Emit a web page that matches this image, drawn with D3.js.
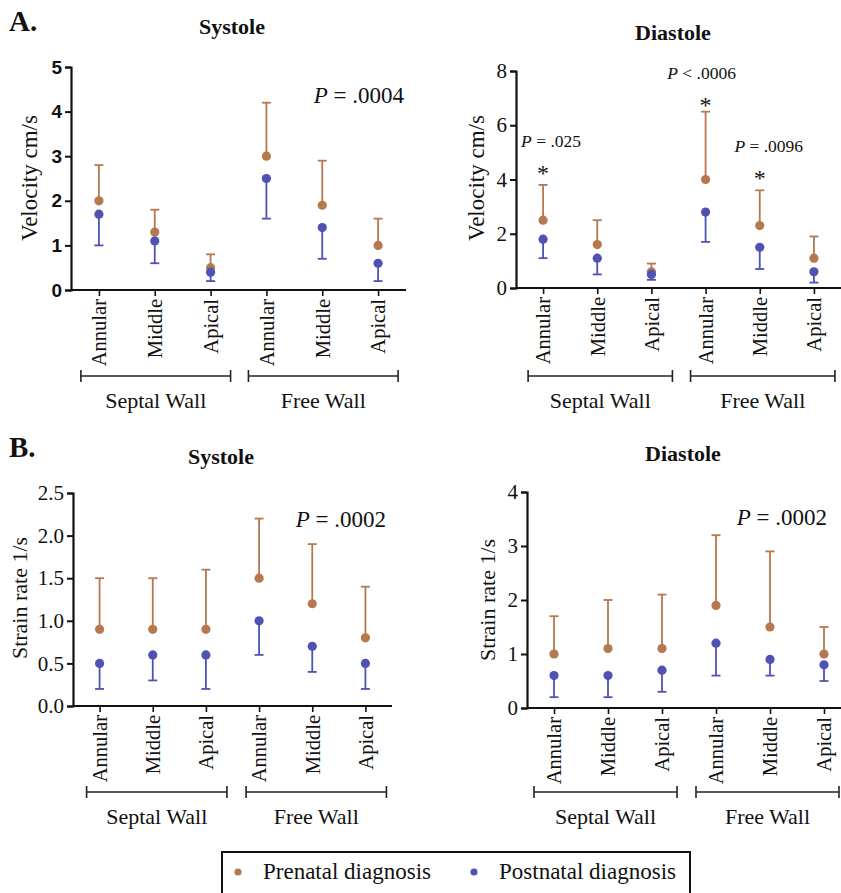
<!doctype html>
<html>
<head>
<meta charset="utf-8">
<script src="https://d3js.org/d3.v7.min.js"></script>
<style>
  body { margin: 0; background: #fff; }
</style>
</head>
<body>
<svg width="841" height="893"></svg>
<script>
// categories along each wall
var categories = ["Annular", "Middle", "Apical", "Annular", "Middle", "Apical"];
var groups = ["Septal Wall", "Free Wall"];

// A. velocity, systole
var velSysPre = [2.0, 1.3, 0.5, 3.0, 1.9, 1.0];
var velSysPreHi = [2.8, 1.8, 0.8, 4.2, 2.9, 1.6];
var velSysPost = [1.7, 1.1, 0.4, 2.5, 1.4, 0.6];
var velSysPostLo = [1.0, 0.6, 0.2, 1.6, 0.7, 0.2];
var velSysTicks = [0, 1, 2, 3, 4, 5];

// A. velocity, diastole
var velDiaPre = [2.5, 1.6, 0.6, 4.0, 2.3, 1.1];
var velDiaPreHi = [3.8, 2.5, 0.9, 6.5, 3.6, 1.9];
var velDiaPost = [1.8, 1.1, 0.5, 2.8, 1.5, 0.6];
var velDiaPostLo = [1.1, 0.5, 0.3, 1.7, 0.7, 0.2];
var velDiaTicks = [0, 2, 4, 6, 8];

// B. strain rate, systole
var srSysPre = [0.9, 0.9, 0.9, 1.5, 1.2, 0.8];
var srSysPreHi = [1.5, 1.5, 1.6, 2.2, 1.9, 1.4];
var srSysPost = [0.5, 0.6, 0.6, 1.0, 0.7, 0.5];
var srSysPostLo = [0.2, 0.3, 0.2, 0.6, 0.4, 0.2];
var srSysTicks = [0, 0.5, 1.0, 1.5, 2.0, 2.5];

// B. strain rate, diastole
var srDiaPre = [1.0, 1.1, 1.1, 1.9, 1.5, 1.0];
var srDiaPreHi = [1.7, 2.0, 2.1, 3.2, 2.9, 1.5];
var srDiaPost = [0.6, 0.6, 0.7, 1.2, 0.9, 0.8];
var srDiaPostLo = [0.2, 0.2, 0.3, 0.6, 0.6, 0.5];
var srDiaTicks = [0, 1, 2, 3, 4];

var preColor = "#b5784f",
    postColor = "#5052b3";
var serif = "'Liberation Serif', 'Times New Roman', serif";

var svg = d3.select("svg");

function txt(sel, size) {
    return sel.attr("font-family", serif).attr("font-size", size).attr("fill", "#111");
}

function drawPanel(p) {
    var x = d3.scalePoint().domain(d3.range(categories.length))
              .range([p.x0, p.x1]).padding(0.5);
    var y = d3.scaleLinear().domain([0, d3.max(p.ticks)]).range([p.bottom, p.top]);
    var g = svg.append("g");

    // y axis
    var ya = g.append("g")
        .attr("transform", "translate(" + p.x0 + ",0)")
        .call(d3.axisLeft(y).tickValues(p.ticks).tickSize(6).tickPadding(3)
                .tickFormat(p.fmt));
    ya.select(".domain").attr("stroke", "#111").attr("stroke-width", 2.2);
    ya.selectAll(".tick line").attr("stroke", "#111").attr("stroke-width", 2);
    if (p.boldTicks) {
        ya.selectAll(".tick text")
          .attr("font-family", "'Liberation Sans', Arial, sans-serif")
          .attr("font-weight", "bold").attr("font-size", 19).attr("fill", "#111");
    } else {
        txt(ya.selectAll(".tick text"), 21);
    }

    // x axis
    var xa = g.append("g")
        .attr("transform", "translate(0," + p.bottom + ")")
        .call(d3.axisBottom(x).tickSize(6).tickFormat(function(i) { return categories[i]; }));
    xa.select(".domain").attr("d", "M" + p.x0 + ",0H" + p.x1)
      .attr("stroke", "#111").attr("stroke-width", 2.2);
    xa.selectAll(".tick line").attr("stroke", "#111").attr("stroke-width", 1.6);
    txt(xa.selectAll(".tick text"), 20.5)
      .attr("text-anchor", "end")
      .attr("transform", "rotate(-90)")
      .attr("x", -9).attr("y", 0).attr("dy", "0.33em");

    // y label
    txt(g.append("text"), p.ylabSize)
     .attr("transform", "translate(" + p.ylabX + "," + p.ylabY + ") rotate(-90)")
     .attr("text-anchor", "middle")
     .text(p.ylabel);

    // title
    txt(g.append("text"), 22)
     .attr("x", p.titleX).attr("y", p.titleY)
     .attr("text-anchor", "middle")
     .attr("font-weight", "bold")
     .text(p.title);

    // error bars
    var cap = 4.5;
    function bars(vals, ends, color) {
        var eb = g.append("g").attr("stroke", color).attr("stroke-width", 1.8);
        eb.selectAll("line.v").data(vals).enter().append("line")
          .attr("x1", function(d, i) { return x(i); })
          .attr("x2", function(d, i) { return x(i); })
          .attr("y1", function(d) { return y(d); })
          .attr("y2", function(d, i) { return y(ends[i]); });
        eb.selectAll("line.c").data(ends).enter().append("line")
          .attr("x1", function(d, i) { return x(i) - cap; })
          .attr("x2", function(d, i) { return x(i) + cap; })
          .attr("y1", function(d) { return y(d); })
          .attr("y2", function(d) { return y(d); });
    }
    bars(p.pre, p.preHi, preColor);
    bars(p.post, p.postLo, postColor);

    g.selectAll("circle.pre").data(p.pre).enter().append("circle")
     .attr("cx", function(d, i) { return x(i); })
     .attr("cy", function(d) { return y(d); })
     .attr("r", 4.6).attr("fill", preColor);
    g.selectAll("circle.post").data(p.post).enter().append("circle")
     .attr("cx", function(d, i) { return x(i); })
     .attr("cy", function(d) { return y(d); })
     .attr("r", 4.6).attr("fill", postColor);

    // group brackets
    groups.forEach(function(name, k) {
        var a = x(k * 3) - p.brL, b = x(k * 3 + 2) + p.brR;
        var bg = g.append("g").attr("stroke", "#222").attr("stroke-width", 1.6);
        bg.append("line").attr("x1", a).attr("x2", b).attr("y1", p.brY).attr("y2", p.brY);
        bg.append("line").attr("x1", a).attr("x2", a).attr("y1", p.brY - 6).attr("y2", p.brY + 6);
        bg.append("line").attr("x1", b).attr("x2", b).attr("y1", p.brY - 6).attr("y2", p.brY + 6);
        txt(g.append("text"), 22)
         .attr("x", (a + b) / 2).attr("y", p.brY + 32)
         .attr("text-anchor", "middle")
         .text(name);
    });

    // p-value notes
    (p.notes || []).forEach(function(n) {
        var t = txt(g.append("text"), n.size)
         .attr("x", n.i == null ? n.x : x(n.i) + (n.dx || 0))
         .attr("y", n.i == null ? n.y : y(n.v))
         .attr("text-anchor", n.anchor);
        t.append("tspan").attr("font-style", "italic").text("P");
        t.append("tspan").text(n.text);
        if (n.star) {
            txt(g.append("text"), 24)
             .attr("x", x(n.i)).attr("y", y(n.v) + 34)
             .attr("text-anchor", "middle")
             .text("*");
        }
    });
}

drawPanel({
    x0: 71, x1: 406, top: 67, bottom: 290, ticks: velSysTicks, boldTicks: true,
    fmt: d3.format("d"),
    pre: velSysPre, preHi: velSysPreHi, post: velSysPost, postLo: velSysPostLo,
    ylabel: "Velocity cm/s", ylabX: 37, ylabY: 178, ylabSize: 23,
    title: "Systole", titleX: 232, titleY: 34,
    brY: 376, brL: 18, brR: 20,
    notes: [{ x: 404, y: 103, anchor: "end", size: 23, text: " = .0004" }]
});

drawPanel({
    x0: 516, x1: 841, top: 71, bottom: 288, ticks: velDiaTicks,
    fmt: d3.format("d"),
    pre: velDiaPre, preHi: velDiaPreHi, post: velDiaPost, postLo: velDiaPostLo,
    ylabel: "Velocity cm/s", ylabX: 484, ylabY: 178, ylabSize: 23,
    title: "Diastole", titleX: 673, titleY: 40,
    brY: 376, brL: 15, brR: 21,
    notes: [
        { i: 0, v: 5.2, dx: 8, anchor: "middle", size: 17.5, text: " = .025", star: true },
        { i: 3, v: 7.7, dx: -4, anchor: "middle", size: 17.5, text: " < .0006", star: true },
        { i: 4, v: 5.0, dx: 9, anchor: "middle", size: 17.5, text: " = .0096", star: true }
    ]
});

drawPanel({
    x0: 73, x1: 392, top: 493, bottom: 706, ticks: srSysTicks,
    fmt: d3.format(".1f"),
    pre: srSysPre, preHi: srSysPreHi, post: srSysPost, postLo: srSysPostLo,
    ylabel: "Strain rate 1/s", ylabX: 27, ylabY: 598, ylabSize: 22,
    title: "Systole", titleX: 221, titleY: 464,
    brY: 792, brL: 13, brR: 21,
    notes: [{ x: 386, y: 527, anchor: "end", size: 23, text: " = .0002" }]
});

drawPanel({
    x0: 527, x1: 851, top: 492, bottom: 708, ticks: srDiaTicks,
    fmt: d3.format("d"),
    pre: srDiaPre, preHi: srDiaPreHi, post: srDiaPost, postLo: srDiaPostLo,
    ylabel: "Strain rate 1/s", ylabX: 495, ylabY: 600, ylabSize: 22,
    title: "Diastole", titleX: 683, titleY: 461,
    brY: 792, brL: 20, brR: 15,
    notes: [{ x: 827, y: 525, anchor: "end", size: 23, text: " = .0002" }]
});

// panel letters
txt(svg.append("text"), 29).attr("x", 9).attr("y", 31)
   .attr("font-weight", "bold").text("A.");
txt(svg.append("text"), 29).attr("x", 9).attr("y", 457)
   .attr("font-weight", "bold").text("B.");

// legend
var legend = svg.append("g");
legend.append("rect").attr("x", 222).attr("y", 852).attr("width", 468).attr("height", 50)
      .attr("fill", "none").attr("stroke", "#111").attr("stroke-width", 2);
[["Prenatal diagnosis", preColor, 238], ["Postnatal diagnosis", postColor, 474]].forEach(function(l) {
    legend.append("circle").attr("cx", l[2]).attr("cy", 872).attr("r", 3.6).attr("fill", l[1]);
    txt(legend.append("text"), 23).attr("x", l[2] + 25).attr("y", 879).text(l[0]);
});
</script>
</body>
</html>
